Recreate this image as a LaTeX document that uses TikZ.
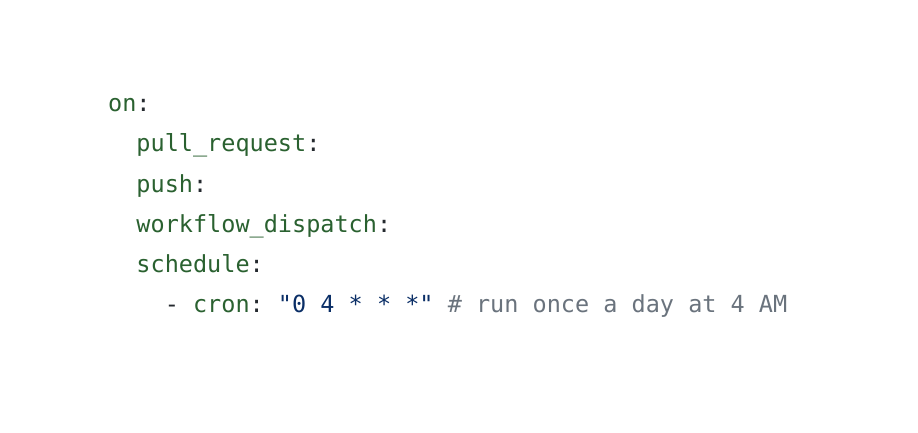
\documentclass[tikz,border=0pt]{standalone}
\usepackage{fontspec}
\setmonofont{DejaVu Sans Mono}
\definecolor{kgreen}{HTML}{2A6130}
\definecolor{kblue}{HTML}{0A2E66}
\definecolor{kgray}{HTML}{6A737D}
\definecolor{kdark}{HTML}{24292E}
\begin{document}
\begin{tikzpicture}[x=1pt,y=1pt,
  codeline/.style={anchor=base west,inner sep=0pt,font=\ttfamily\fontsize{23.5}{28}\selectfont,text=kdark}]
\useasboundingbox[fill=white] (0,0) rectangle (918,432);
\node[codeline] (l1) at (108,320) {\textcolor{kgreen}{on}:};
\node[codeline] (l2) at (108,280) {\ \ \textcolor{kgreen}{pull\_request}:};
\node[codeline] (l3) at (108,240) {\ \ \textcolor{kgreen}{push}:};
\node[codeline] (l4) at (108,200) {\ \ \textcolor{kgreen}{workflow\_dispatch}:};
\node[codeline] (l5) at (108,160) {\ \ \textcolor{kgreen}{schedule}:};
\node[codeline] (l6) at (108,120) {\ \ \ \ - \textcolor{kgreen}{cron}: \textcolor{kblue}{"0 4 * * *"} \textcolor{kgray}{\# run once a day at 4 AM}};
\end{tikzpicture}
\end{document}
